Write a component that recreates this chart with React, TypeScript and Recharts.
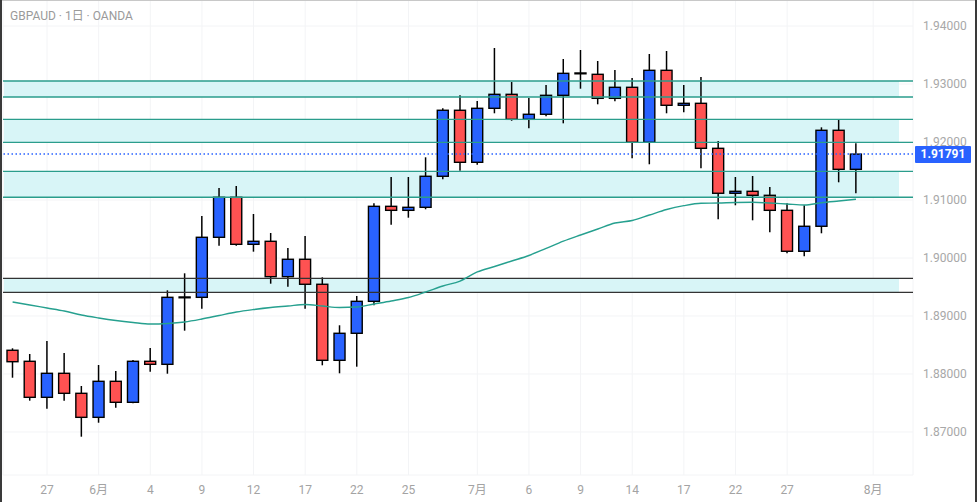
import {
  ComposedChart,
  Bar,
  Line,
  XAxis,
  YAxis,
  CartesianGrid,
  ReferenceArea,
  ReferenceLine,
} from "recharts";

// daily candles, oldest first
const opens = [
  1.88409, 1.88219, 1.87598, 1.88012, 1.87667, 1.87253, 1.87874, 1.87512, 1.88219, 1.88167,
  1.89322, 1.89322, 1.90357, 1.91047, 1.90236, 1.90288, 1.89678, 1.89978, 1.89547, 1.88236,
  1.88702, 1.89253, 1.90891, 1.90822, 1.90874, 1.91409, 1.92547, 1.9165, 1.92581, 1.92822,
  1.92391, 1.92478, 1.92805, 1.93184, 1.93167, 1.92753, 1.92943, 1.91995, 1.93236, 1.92633,
  1.92667, 1.91891, 1.91116, 1.9115, 1.91081, 1.90822, 1.90116, 1.90547, 1.92202, 1.91529,
];
const highs = [
  1.88443, 1.88345, 1.88569, 1.88362, 1.87793, 1.88155, 1.88052, 1.88241, 1.88448, 1.89443,
  1.89736, 1.90724, 1.91207, 1.91241, 1.90759, 1.90431, 1.90172, 1.90379, 1.89667, 1.8884,
  1.89345, 1.90943, 1.91397, 1.91397, 1.91736, 1.92581, 1.92805, 1.92707, 1.93621, 1.93034,
  1.92759, 1.92983, 1.93431, 1.93586, 1.93397, 1.93241, 1.93103, 1.93517, 1.93569, 1.92983,
  1.93121, 1.92017, 1.91397, 1.91414, 1.91224, 1.90943, 1.90909, 1.92253, 1.92379, 1.91978,
];
const lows = [
  1.87936, 1.8754, 1.87402, 1.8754, 1.86919, 1.8716, 1.87419, 1.87495, 1.8804, 1.88005,
  1.88747, 1.89126, 1.90212, 1.90212, 1.90109, 1.89557, 1.89505, 1.89126, 1.8815, 1.88012,
  1.88126, 1.89184, 1.90574, 1.90695, 1.9084, 1.91357, 1.91505, 1.91609, 1.92495, 1.92367,
  1.92236, 1.92443, 1.92322, 1.92919, 1.9265, 1.92702, 1.91719, 1.91616, 1.92495, 1.92512,
  1.91547, 1.90667, 1.90909, 1.9065, 1.90443, 1.90081, 1.90029, 1.90426, 1.91305, 1.91116,
];
const closes = [
  1.88212, 1.87598, 1.88012, 1.87667, 1.87253, 1.87874, 1.87512, 1.88219, 1.88167, 1.89322,
  1.89328, 1.90357, 1.91047, 1.90236, 1.90288, 1.89678, 1.89978, 1.89547, 1.88236, 1.88702,
  1.89253, 1.90891, 1.90822, 1.90874, 1.91409, 1.92547, 1.9165, 1.92581, 1.92822, 1.92391,
  1.92478, 1.92805, 1.93184, 1.9319, 1.92753, 1.92943, 1.91995, 1.93236, 1.92633, 1.92667,
  1.91891, 1.91116, 1.9115, 1.91081, 1.90822, 1.90116, 1.90547, 1.92202, 1.91529, 1.91791,
];
// moving average
const ma = [
  1.89241, 1.8919, 1.89138, 1.89086, 1.89017, 1.88966, 1.88922, 1.88888, 1.88862, 1.88871,
  1.88897, 1.88948, 1.89009, 1.89069, 1.89112, 1.89147, 1.89172, 1.89198, 1.89172, 1.89147,
  1.89155, 1.89207, 1.89259, 1.89319, 1.89414, 1.89517, 1.89603, 1.89759, 1.89853, 1.89948,
  1.90043, 1.90166, 1.9029, 1.90397, 1.905, 1.90603, 1.90647, 1.90741, 1.90836, 1.90902,
  1.90943, 1.90948, 1.90957, 1.9096, 1.90948, 1.90931, 1.90914, 1.90953, 1.90983, 1.91012,
];

const tickIndex = [2, 5, 8, 11, 14, 17, 20, 23, 27, 30, 33, 36, 39, 42, 45, 50];
const tickLabels = ["27", "6月", "4", "9", "12", "17", "22", "25", "7月", "6", "9", "14", "17", "22", "27", "8月"];
const priceTicks = [1.87, 1.88, 1.89, 1.9, 1.91, 1.92, 1.93, 1.94];

// support / resistance zones [top, bottom]
const zones = [
  [1.93052, 1.92776],
  [1.92391, 1.91995],
  [1.91495, 1.91047],
  [1.8965, 1.89409],
];
const zoneLineColors = ["#2a9d8c", "#2a9d8c", "#2a9d8c", "#333333"];

const lastPrice = 1.91791;
const slots = 52;

const data = Array.from({ length: slots }, (_, i) =>
  i < opens.length
    ? {
        i,
        open: opens[i],
        close: closes[i],
        high: highs[i],
        low: lows[i],
        range: [lows[i], highs[i]],
        ma: ma[i],
      }
    : { i }
);

const UP = "#2962ff";
const DOWN = "#ff5252";

const Candle = (props: any) => {
  const { x, y, width, height, payload } = props;
  if (!payload || payload.open == null) return null;
  const { open, close, high, low } = payload;
  const top = Math.min(y, y + height);
  const bottom = Math.max(y, y + height);
  const span = high - low || 1;
  const toY = (v: number) => top + ((high - v) / span) * (bottom - top);
  const cx = x + width / 2;
  const bTop = toY(Math.max(open, close));
  const bBot = toY(Math.min(open, close));
  const up = close >= open;
  return (
    <g>
      <line x1={cx} x2={cx} y1={top} y2={bottom} stroke="#000" strokeWidth={1.5} />
      <rect
        x={x}
        y={bTop}
        width={width}
        height={Math.max(bBot - bTop, 0.8)}
        fill={up ? UP : DOWN}
        stroke="#000"
        strokeWidth={1.4}
      />
    </g>
  );
};

const PriceTag = (props: any) => {
  const vb = props.viewBox || {};
  const bx = vb.x + vb.width + 2;
  const by = vb.y;
  return (
    <g>
      <rect x={bx} y={by - 8} width={56} height={17} fill="#2962ff" rx={1} />
      <text
        x={bx + 28}
        y={by + 1}
        textAnchor="middle"
        dominantBaseline="middle"
        fill="#fff"
        fontSize={12}
        fontWeight="bold"
        fontFamily="Roboto, 'Noto Sans', sans-serif"
      >
        {lastPrice.toFixed(5)}
      </text>
    </g>
  );
};

export default function App() {
  return (
    <div
      style={{
        position: "relative",
        width: 977,
        height: 502,
        background: "#fff",
        overflow: "hidden",
        fontFamily: "Roboto, 'Noto Sans CJK JP', sans-serif",
      }}
    >
      <style>{`body{margin:0}`}</style>

      <ComposedChart
        width={977}
        height={502}
        data={data}
        margin={{ top: 0, right: 2, left: 3, bottom: 0 }}
      >
        <CartesianGrid stroke="#f3f4f6" />

        {zones.map((z, k) => (
          <ReferenceArea
            key={"a" + k}
            y1={z[1]}
            y2={z[0]}
            fill="#d8f5f7"
            fillOpacity={1}
            stroke="none"
          />
        ))}
        {zones.map((z, k) =>
          z.map((v, j) => (
            <ReferenceLine
              key={"l" + k + "-" + j}
              y={v}
              stroke={zoneLineColors[k]}
              strokeWidth={1.3}
            />
          ))
        )}

        <XAxis
          dataKey="i"
          type="category"
          ticks={tickIndex}
          interval={0}
          tickFormatter={(v: number) => tickLabels[tickIndex.indexOf(v)] ?? ""}
          axisLine={false}
          tickLine={false}
          tickMargin={4}
          height={27}
          padding={{ left: 1, right: 14 }}
          tick={{ fill: "#a3a3a3", fontSize: 12 }}
        />
        <YAxis
          orientation="right"
          domain={[1.862586, 1.944483]}
          allowDataOverflow
          ticks={priceTicks}
          tickFormatter={(v: number) => v.toFixed(5)}
          axisLine={false}
          tickLine={false}
          tickSize={6}
          tickMargin={4}
          width={62}
          tick={{ fill: "#a8a8a8", fontSize: 12, textAnchor: "start" }}
        />

        <Line
          dataKey="ma"
          type="monotone"
          stroke="#26a08f"
          strokeWidth={1.4}
          dot={false}
          isAnimationActive={false}
        />

        <Bar
          dataKey="range"
          barSize={11}
          shape={Candle}
          isAnimationActive={false}
        />

        <ReferenceLine
          y={lastPrice}
          stroke="#2962ff"
          strokeWidth={1.5}
          strokeDasharray="1.5 2.5"
          label={<PriceTag />}
        />
      </ComposedChart>

      <div
        style={{
          position: "absolute",
          left: 10,
          top: 6,
          fontSize: 12,
          color: "#9a9a9a",
          whiteSpace: "pre",
        }}
      >
        GBPAUD · 1日 · OANDA
      </div>

      <div style={{ position: "absolute", left: 0, top: 0, width: 977, height: 1, background: "#c8c8c8" }} />
      <div style={{ position: "absolute", left: 0, top: 0, width: 2, height: 502, background: "#3a3a3a" }} />
      <div style={{ position: "absolute", right: 0, top: 0, width: 2, height: 502, background: "#3a3a3a" }} />
    </div>
  );
}
